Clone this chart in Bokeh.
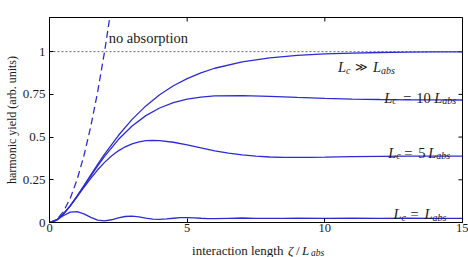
import math
from bokeh.plotting import figure
from bokeh.layouts import column
from bokeh.models import Range1d, FixedTicker, Label
from bokeh.embed import file_html
from bokeh.resources import INLINE

# interaction length (in units of L_abs) and harmonic yield for each coherence length
zeta_coarse = [0, 0.25, 0.5, 0.75, 1, 1.25, 1.5, 1.75, 2, 2.5, 3, 3.5, 4, 4.5,
               5, 5.5, 6, 7, 8, 9, 10, 11, 12, 13, 14, 15]
yield_long = [0, 0.0138, 0.0489, 0.0978, 0.1548, 0.2159, 0.2784, 0.3400, 0.3996,
              0.5091, 0.6036, 0.6826, 0.7477, 0.8003, 0.8425, 0.8763, 0.9029,
              0.9405, 0.9637, 0.9779, 0.9866, 0.9918, 0.9950, 0.9970, 0.9982, 0.9989]
yield_lc10 = [0, 0.0138, 0.0488, 0.0974, 0.1536, 0.2132, 0.2734, 0.3319, 0.3872,
              0.4854, 0.5647, 0.6255, 0.6702, 0.7013, 0.7218, 0.7343, 0.7408,
              0.7431, 0.7385, 0.7322, 0.7267, 0.7226, 0.7199, 0.7183, 0.7174, 0.7170]

zeta_lc5 = [0, 0.25, 0.5, 0.75, 1, 1.25, 1.5, 1.75, 2, 2.25, 2.5, 2.75, 3, 3.25,
            3.5, 3.75, 4, 4.5, 5, 5.5, 6, 6.5, 7, 7.5, 8, 8.5, 9, 9.5, 10,
            11, 12, 13, 14, 15]
yield_lc5 = [0, 0.0138, 0.0485, 0.0960, 0.1499, 0.2053, 0.2589, 0.3084, 0.3520,
             0.3892, 0.4196, 0.4432, 0.4605, 0.4721, 0.4787, 0.4810, 0.4797,
             0.4698, 0.4540, 0.4365, 0.4199, 0.4060, 0.3953, 0.3880, 0.3835,
             0.3813, 0.3808, 0.3814, 0.3825, 0.3852, 0.3872, 0.3881, 0.3883, 0.3882]

zeta_lc1 = [0, 0.25, 0.5, 0.75, 1, 1.25, 1.5, 1.75, 2, 2.25, 2.5, 2.75, 3, 3.25,
            3.5, 3.75, 4, 4.25, 4.5, 4.75, 5, 5.25, 5.5, 5.75, 6,
            6.5, 7, 7.5, 8, 8.5, 9, 10, 11, 12, 13, 14, 15]
yield_lc1 = [0, 0.0131, 0.0397, 0.0604, 0.0638, 0.0505, 0.0302, 0.0144, 0.0099,
             0.0160, 0.0267, 0.0351, 0.0370, 0.0325, 0.0255, 0.0199, 0.0185,
             0.0209, 0.0250, 0.0282, 0.0289, 0.0274, 0.0248, 0.0228, 0.0223,
             0.0247, 0.0262, 0.0247, 0.0238, 0.0247, 0.0253, 0.0244, 0.0249,
             0.0246, 0.0248, 0.0247, 0.0247]

zeta_free = [0, 0.25, 0.5, 0.75, 1, 1.25, 1.5, 1.75, 2, 2.25]
yield_free = [0, 0.0156, 0.0625, 0.1406, 0.25, 0.3906, 0.5625, 0.7656, 1.0, 1.2656]

x_ticks = [0, 5, 10, 15]
y_ticks = [0, 0.25, 0.5, 0.75, 1]
y_tick_labels = {0: "0", 0.25: "0.25", 0.5: "0.5", 0.75: "0.75", 1: "1"}

X_MAX, Y_MAX = 15, 1.2
SERIF = "'Liberation Serif', serif"
SYMBOL = "'DejaVu Serif', serif"
BLUE = "#2c2cd6"
INK = "#1a1a1a"

x_range = Range1d(0, X_MAX)

p = figure(width=468, height=237, output_backend="svg", toolbar_location=None,
           x_range=x_range, y_range=Range1d(0, Y_MAX),
           min_border_left=49, min_border_right=6, min_border_top=17,
           min_border_bottom=15)
p.grid.visible = False
p.outline_line_color = "black"
p.background_fill_color = "white"
p.border_fill_color = "white"

for ax in (p.xaxis, p.yaxis):
    ax.major_tick_in = 4
    ax.major_tick_out = 0
    ax.minor_tick_line_color = None
    ax.axis_line_color = "black"
    ax.major_label_text_font = SERIF
    ax.major_label_text_font_size = "13px"
    ax.major_label_text_color = INK
p.xaxis.major_label_text_font_size = "12.5px"
p.xaxis.ticker = FixedTicker(ticks=x_ticks)
p.yaxis.ticker = FixedTicker(ticks=y_ticks)
p.yaxis.major_label_overrides = y_tick_labels
p.xaxis.major_label_standoff = 1
p.yaxis.major_label_standoff = 4
p.yaxis.axis_label = "harmonic yield (arb. units)"
p.yaxis.axis_label_text_font = SERIF
p.yaxis.axis_label_text_font_style = "normal"
p.yaxis.axis_label_text_font_size = "12px"
p.yaxis.axis_label_text_color = INK
p.yaxis.axis_label_standoff = 1

# inward ticks on the top and right edges of the box
p.ray(x=x_ticks, y=[Y_MAX] * len(x_ticks), length=4, length_units="screen",
      angle=-math.pi / 2, line_color="black", line_width=1)
p.ray(x=[X_MAX] * len(y_ticks), y=y_ticks, length=4, length_units="screen",
      angle=math.pi, line_color="black", line_width=1)

# saturation level
p.line([0, X_MAX], [1, 1], line_color="#666666", line_width=1, line_dash="2 2")

p.line(zeta_free, yield_free, line_color=BLUE, line_width=1.3, line_dash="7 4")
p.line(zeta_coarse, yield_long, line_color=BLUE, line_width=1.3)
p.line(zeta_coarse, yield_lc10, line_color=BLUE, line_width=1.3)
p.line(zeta_lc5, yield_lc5, line_color=BLUE, line_width=1.3)
p.line(zeta_lc1, yield_lc1, line_color=BLUE, line_width=1.3)


def add_label(fig, x, y, pieces):
    """Place a run of text pieces (text, dx, dy, size, style, font) from one anchor."""
    for text, dx, dy, size, style, font in pieces:
        fig.add_layout(Label(x=x, y=y, x_offset=dx, y_offset=dy, text=text,
                             text_font=font, text_font_size=f"{size}px",
                             text_font_style=style, text_color=INK,
                             text_baseline="alphabetic", text_align="left"))


S, I = SERIF, SYMBOL
add_label(p, 2.15, 1.08, [("no absorption", 0, 0, 14.5, "normal", S)])
add_label(p, 10.48, 0.908, [("L", 0, 0, 14.5, "italic", S), ("c", 8, -3, 10, "italic", S),
                            ("\u226b", 17, 0, 12, "normal", I),
                            ("L", 35, 0, 14.5, "italic", S), ("abs", 43, -3, 10, "italic", S)])
add_label(p, 12.16, 0.731, [("L", 0, 0, 14.5, "italic", S), ("c", 8, -3, 10, "italic", S),
                            ("=", 19, 0, 14.5, "normal", S), ("10", 32, 0, 14.5, "normal", S),
                            ("L", 50, 0, 14.5, "italic", S), ("abs", 58, -3, 10, "italic", S)])
add_label(p, 12.30, 0.409, [("L", 0, 0, 14.5, "italic", S), ("c", 8, -3, 10, "italic", S),
                            ("=", 16, 0, 14.5, "normal", S), ("5", 30, 0, 14.5, "normal", S),
                            ("L", 40, 0, 14.5, "italic", S), ("abs", 48, -3, 10, "italic", S)])
add_label(p, 12.49, 0.047, [("L", 0, 0, 14.5, "italic", S), ("c", 8, -3, 10, "italic", S),
                            ("=", 17, 0, 14.5, "normal", S),
                            ("L", 31, 0, 14.5, "italic", S), ("abs", 39, -3, 10, "italic", S)])

# strip under the chart carrying the x-axis title, on the same horizontal scale
q = figure(width=468, height=20, output_backend="svg", toolbar_location=None,
           x_range=x_range, y_range=Range1d(0, 20),
           min_border_left=49, min_border_right=6, min_border_top=0,
           min_border_bottom=0)
q.axis.visible = False
q.grid.visible = False
q.outline_line_color = None
q.background_fill_color = "white"
q.border_fill_color = "white"
add_label(q, 5.18, 7, [("interaction length", 0, 0, 13, "normal", S),
                       ("\u03b6", 96, 0, 13, "italic", S), ("/", 104, 0, 13, "normal", S),
                       ("L", 110, 0, 13, "italic", S), ("abs", 119, -2.5, 9.5, "italic", S)])

layout = column(p, q, spacing=0)
open("out.html", "w").write(file_html(layout, INLINE))
